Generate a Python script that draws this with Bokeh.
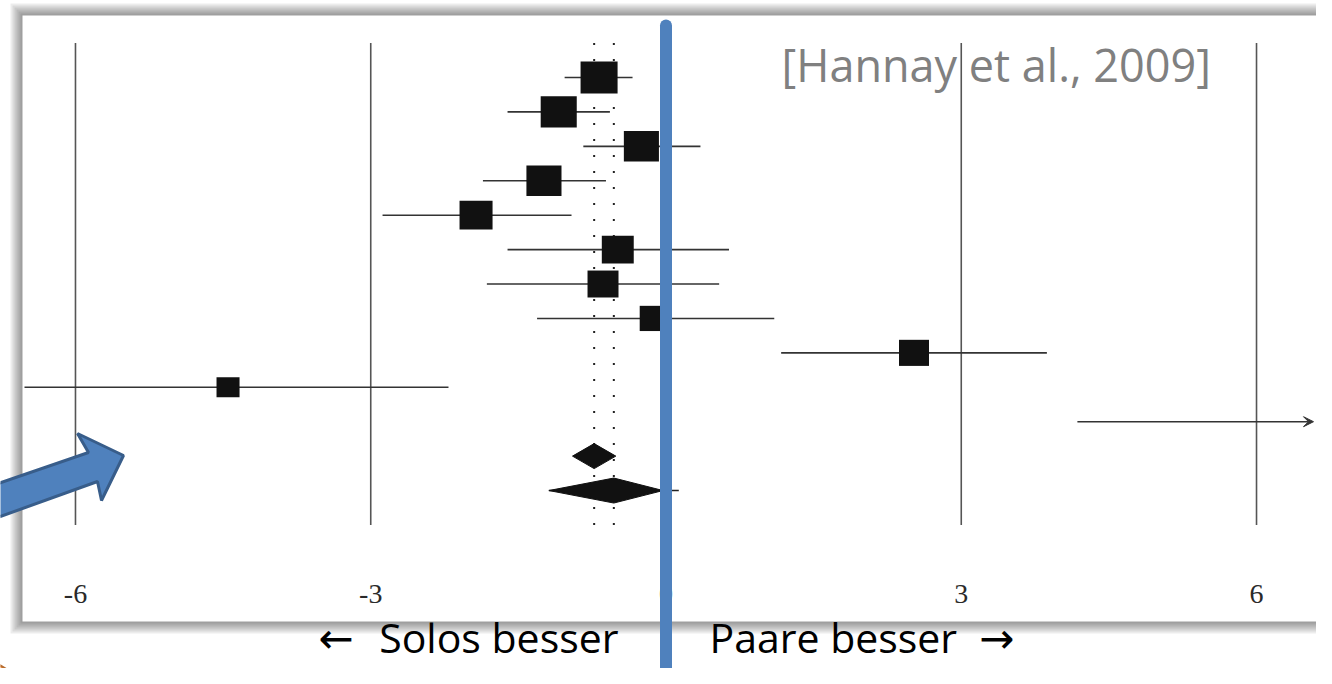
import numpy as np
from bokeh.plotting import figure
from bokeh.models import Range1d, Arrow, VeeHead
from bokeh.core.properties import value
from bokeh.embed import file_html
from bokeh.resources import INLINE

# ---------------- data ----------------
study_rows = [1, 2, 3, 4, 5, 6, 7, 8, 9, 10, 11]
study_est = [-0.68, -1.09, -0.25, -1.24, -1.93, -0.49, -0.64, -0.12, 2.52, -4.45, 7.6]
study_lo = [-1.03, -1.61, -0.84, -1.86, -2.88, -1.61, -1.82, -1.31, 1.17, -6.9, 4.18]
study_hi = [-0.34, -0.57, 0.35, -0.61, -0.96, 0.64, 0.54, 1.10, 3.87, -2.21, 11.0]
study_weight = [13.7, 13.0, 12.3, 12.3, 10.9, 10.2, 9.6, 8.4, 9.0, 5.3, 4.0]

pooled_rows = [12, 13]
pooled_est = [-0.73, -0.53]
pooled_lo = [-0.95, -1.19]
pooled_hi = [-0.51, -0.03]
pred_lo, pred_hi = -1.19, 0.13

tick_values = [-6, -3, 0, 3, 6]
tick_labels = ["-6", "-3", "0", "3", "6"]

citation = "[Hannay et al., 2009]"
left_label = "Solos besser"
right_label = "Paare besser"

# ---------------- layout helpers ----------------
W, H = 1316, 668
PXU = 98.42            # px per effect unit
PYU = 34.42            # px per row
X0 = -665.5 / PXU
X1 = X0 + W / PXU
Y_TOP = 1 - 77 / PYU
Y_BOT = Y_TOP + H / PYU


def fx(px):
    return X0 + px / PXU


def fy(py):
    return Y_TOP + py / PYU


p = figure(width=W, height=H, x_range=Range1d(X0, X1), y_range=Range1d(Y_BOT, Y_TOP),
           output_backend="svg", toolbar_location=None, x_axis_type=None, y_axis_type=None,
           min_border=0, min_border_left=0, min_border_right=0, min_border_top=0,
           min_border_bottom=0)
p.outline_line_color = None
p.background_fill_color = "white"
p.border_fill_color = "white"

# shadowed white panel
for k in range(1, 7):
    p.quad(left=fx(22 - 2 * k), right=fx(1400), top=fy(15 - 2 * k), bottom=fy(621 + 2 * k),
           fill_color="black", fill_alpha=0.075, line_color=None)
p.quad(left=fx(22), right=fx(1400), top=fy(15), bottom=fy(621), fill_color="white", line_color=None)

panel_left = fx(24)
panel_right = fx(1313)

# vertical reference lines
p.segment(x0=tick_values, y0=[0] * 5, x1=tick_values, y1=[14] * 5, line_color="#555555", line_width=1.6)

# dotted pooled-estimate lines
p.segment(x0=pooled_est, y0=[0, 0], x1=pooled_est, y1=[14, 14], line_color="#222222",
          line_width=2, line_dash="2 14")

# confidence intervals
lo_c = np.clip(study_lo, panel_left, panel_right)
hi_c = np.clip(study_hi, panel_left, panel_right)
n_in = 10
p.segment(x0=lo_c[:n_in], y0=study_rows[:n_in], x1=hi_c[:n_in], y1=study_rows[:n_in],
          line_color="#333333", line_width=1.6)
p.add_layout(Arrow(end=VeeHead(size=10, fill_color="#333333", line_color="#333333", line_width=1),
                   x_start=lo_c[10], y_start=study_rows[10], x_end=hi_c[10], y_end=study_rows[10],
                   line_color="#333333", line_width=1.6))

# squares (size from weight)
side = 10 * np.sqrt(np.array(study_weight))
p.rect(x=study_est, y=study_rows, width=side, height=side * 0.87, width_units="screen",
       height_units="screen", fill_color="#111111", line_color=None)

# prediction interval line and pooled diamonds
p.segment(x0=[pred_lo], y0=[pooled_rows[1]], x1=[pred_hi], y1=[pooled_rows[1]],
          line_color="#222222", line_width=1.6)
hh = 12.5 / PYU
xs = [[lo, e, hi, e] for lo, e, hi in zip(pooled_lo, pooled_est, pooled_hi)]
ys = [[r, r - hh, r, r + hh] for r in pooled_rows]
p.patches(xs=xs, ys=ys, fill_color="#111111", line_color="#111111", line_width=1)

# tick labels
p.text(x=tick_values, y=[fy(593)] * 5, text=tick_labels, text_align="center", text_baseline="middle",
       text_font=value("Liberation Serif"), text_font_size="28px", text_color="#2a2a2a")

# citation
p.text(x=[fx(781)], y=[fy(64)], text=[citation], text_align="left", text_baseline="middle",
       text_font=value("Open Sans"), text_font_size="45px", text_color="#808080")

# blue zero line
p.segment(x0=[0], y0=[fy(25)], x1=[0], y1=[fy(740)], line_color="#4F81BD", line_width=12,
          line_cap="round")

# bottom labels
mid = fy(636)
p.text(x=[fx(618)], y=[mid], text=[left_label], text_align="right", text_baseline="middle",
       text_font=value("Open Sans"), text_font_size="41px", text_color="black")
p.text(x=[fx(709)], y=[mid], text=[right_label], text_align="left", text_baseline="middle",
       text_font=value("Open Sans"), text_font_size="41px", text_color="black")
p.text(x=[fx(318), fx(1014)], y=[fy(638)] * 2, text=["\u2190", "\u2192"],
       text_align=["left", "right"], text_baseline="middle",
       text_font=value("DejaVu Sans"), text_font_size="42px", text_color="black")

# blue block arrow
arrow_pts = [(-14, 521), (-14, 487), (88, 452), (77, 433), (123, 455), (101, 500), (97, 481)]
p.patch(x=[fx(a) for a, b in arrow_pts], y=[fy(b) for a, b in arrow_pts],
        fill_color="#4F81BD", line_color="#385D8A", line_width=3)

# orange shape corner
orange_pts = [(-20, 653), (48, 694), (-20, 694)]
p.patch(x=[fx(a) for a, b in orange_pts], y=[fy(b) for a, b in orange_pts],
        fill_color="#F79646", line_color="#B66D31", line_width=2)

open("out.html", "w").write(file_html(p, INLINE))
